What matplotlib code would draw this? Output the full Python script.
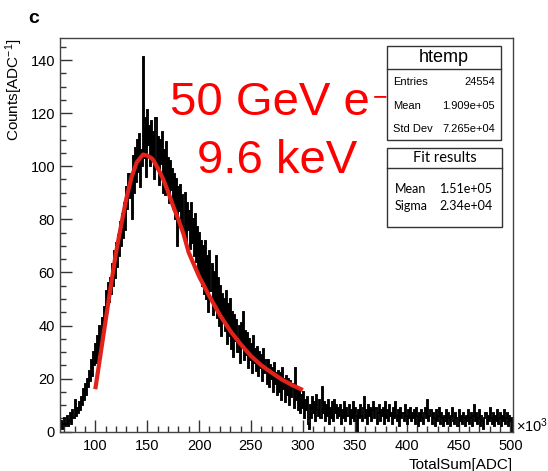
import numpy as np
import matplotlib.pyplot as plt
from matplotlib.patches import Rectangle
from matplotlib.lines import Line2D

plt.rcParams['font.family'] = ['Liberation Sans', 'DejaVu Sans']
plt.rcParams['mathtext.fontset'] = 'custom'
plt.rcParams['mathtext.rm'] = 'Liberation Sans'
plt.rcParams['mathtext.it'] = 'Liberation Sans:italic'
plt.rcParams['mathtext.bf'] = 'Liberation Sans:bold'

# histogram of TotalSum (units of 10^3 ADC), 1k wide bins starting at 66k
bin_start = 66
counts = [
    2, 4, 1, 3, 5, 2, 3, 6, 2, 4,            # 66-75
    7, 3, 8, 5, 12, 6, 9, 7, 11, 8,          # 76-85
    13, 10, 16, 12, 18, 14, 20, 17, 23, 19,  # 86-95
    27, 21, 30, 25, 33, 26, 36, 29, 40, 32,  # 96-105
    43, 37, 47, 41, 53, 45, 56, 49, 58, 52,  # 106-115
    63, 55, 68, 58, 71, 62, 74, 66, 79, 70,  # 116-125
    82, 73, 86, 76, 92, 84, 97, 88, 96, 80,  # 126-135
    104, 90, 107, 94, 110, 98, 112, 92, 106, 100,  # 136-145
    141, 103, 118, 96, 121, 108, 115, 100, 117, 104,  # 146-155
    113, 95, 118, 99, 111, 93, 110, 101, 113, 90,  # 156-165
    106, 89, 109, 93, 103, 86, 102, 91, 99, 84,  # 166-175
    97, 80, 95, 70, 92, 83, 93, 78, 89, 75,  # 176-185
    90, 72, 86, 76, 83, 69, 86, 71, 80, 66,  # 186-195
    82, 64, 77, 60, 75, 58, 72, 55, 70, 52,  # 196-205
    72, 50, 66, 45, 68, 53, 63, 44, 60, 48,  # 206-215
    66, 43, 58, 40, 55, 36, 52, 42, 50, 38,  # 216-225
    53, 33, 48, 36, 50, 31, 45, 28, 44, 34,  # 226-235
    42, 30, 40, 26, 41, 32, 45, 27, 38, 29,  # 236-245
    37, 24, 35, 27, 33, 22, 36, 26, 31, 23,  # 246-255
    32, 21, 30, 24, 29, 19, 31, 22, 27, 18,  # 256-265
    27, 17, 25, 20, 24, 15, 26, 18, 22, 14,  # 266-275
    23, 15, 22, 12, 24, 16, 20, 11, 21, 14,  # 276-285
    20, 10, 19, 13, 18, 9, 24, 12, 17, 8,    # 286-295
    16, 7, 14, 9, 15, 5, 12, 8, 13, 3,       # 296-305
    1, 10, 5, 13, 7, 11, 4, 14, 8, 6,        # 306-315
    12, 5, 17, 7, 11, 4, 10, 6, 12, 3,       # 316-325
    9, 5, 11, 4, 12, 7, 10, 5, 9, 6,         # 326-335
    10, 3, 8, 5, 11, 4, 9, 6, 10, 3,         # 336-345
    8, 5, 11, 4, 9, 6, 0, 8, 5, 10,          # 346-355
    6, 4, 9, 13, 5, 8, 3, 10, 6, 9,          # 356-365
    4, 8, 11, 5, 9, 3, 7, 10, 4, 8,          # 366-375
    6, 9, 3, 11, 5, 8, 4, 10, 6, 7,          # 376-385
    3, 9, 5, 11, 6, 4, 8, 2, 9, 5,           # 386-395
    7, 4, 10, 6, 3, 8, 5, 9, 4, 7,           # 396-405
    5, 8, 3, 9, 6, 2, 7, 4, 8, 5,            # 406-415
    3, 7, 9, 5, 12, 4, 6, 8, 3, 7,           # 416-425
    5, 2, 8, 4, 6, 9, 3, 7, 5, 2,            # 426-435
    6, 4, 8, 3, 7, 5, 2, 6, 9, 4,            # 436-445
    3, 7, 5, 2, 8, 4, 6, 3, 7, 5,            # 446-455
    2, 6, 4, 8, 3, 5, 7, 2, 6, 10,           # 456-465
    4, 7, 3, 5, 8, 2, 6, 4, 1, 5,            # 466-475
    7, 3, 6, 4, 9, 5, 3, 7, 2, 6,            # 476-485
    4, 8, 3, 5, 7, 2, 6, 4, 8, 3,            # 486-495
    5, 7, 2, 6, 4, 5,                        # 496-501
]
edges = np.arange(bin_start, bin_start + len(counts) + 1)

# fitted curve
fit_x = [100, 105, 110, 115, 120, 125, 130, 135, 140, 146, 150, 155, 160, 165,
         170, 175, 180, 185, 190, 200, 210, 220, 230, 240, 250, 260, 270, 280,
         290, 300]
fit_y = [16, 29, 42, 55, 67.5, 78, 88, 96, 101.5, 104.4, 104, 102.8, 99.5, 95.5,
         90.5, 85, 80, 74.5, 67.5, 58.5, 51, 44, 38, 33, 28.5, 25, 22.2, 19.6,
         17.5, 15.7]

stat_names = ['Entries', 'Mean', 'Std Dev']
stat_values = ['24554', '1.909e+05', '7.265e+04']
fit_names = ['Mean', 'Sigma']
fit_values = ['1.51e+05', '2.34e+04']

W, H = 548, 471


def fx(x):
    return x / W


def fy(y):
    return 1 - y / H


fig = plt.figure(figsize=(W / 100, H / 100), dpi=100)
ax = fig.add_axes([fx(60), fy(431.7), (513 - 60) / W, (431.7 - 38) / H])

ax.stairs(counts, edges, color='black', linewidth=1.35, zorder=2)
ax.plot(fit_x, fit_y, color='#e32219', linewidth=3, solid_capstyle='butt', zorder=3)

ax.set_xlim(66, 502.5)
ax.set_ylim(0, 148.3)
ax.set_xticks(np.arange(100, 501, 50))
ax.set_xticks(np.arange(70, 501, 10), minor=True)
ax.set_yticks(np.arange(0, 141, 20))
ax.set_yticks(np.arange(0, 148, 5), minor=True)
ax.tick_params(which='both', direction='in', top=False, right=False,
               color='#333333', width=1)
ax.tick_params(which='major', length=8.6, labelsize=10.5)
ax.tick_params(which='minor', length=4.5)
ax.tick_params(axis='x', pad=5)
ax.tick_params(axis='y', pad=3.6)
for s in ax.spines.values():
    s.set_color('#444444')
    s.set_linewidth(1)

fig.text(fx(513), fy(465), 'TotalSum[ADC]', ha='right', va='center', fontsize=11)
fig.text(fx(14), fy(38), 'Counts[ADC$^{-1}$]', rotation=90, ha='center', va='top',
         fontsize=11)
fig.text(fx(516), fy(426), '×10$^{3}$', ha='left', va='center', fontsize=10.5)
fig.text(fx(28), fy(23), 'c', ha='left', va='baseline', fontsize=14, fontweight='bold')

# big red annotation
fig.text(fx(170), fy(115), '50 GeV e', ha='left', va='baseline', fontsize=34, color='red')
fig.text(fx(380), fy(97), '−', ha='center', va='center', fontsize=18, color='red')
fig.text(fx(197), fy(173), '9.6 keV', ha='left', va='baseline', fontsize=34, color='red')

# stat box
fig.patches.append(Rectangle((fx(387), fy(140)), (501 - 387) / W, (140 - 46) / H,
                             transform=fig.transFigure, facecolor='white',
                             edgecolor='#333333', linewidth=1, zorder=5))
fig.lines.append(Line2D([fx(387), fx(501)], [fy(69), fy(69)], transform=fig.transFigure,
                        color='#333333', linewidth=1, zorder=6))
fig.text(fx(444), fy(57.5), 'htemp', ha='center', va='center', fontsize=13, zorder=7)
for i, (n, v) in enumerate(zip(stat_names, stat_values)):
    yy = 82 + i * 23.5
    fig.text(fx(393), fy(yy), n, ha='left', va='center', fontsize=8, zorder=7)
    fig.text(fx(495), fy(yy), v, ha='right', va='center', fontsize=8, zorder=7)

# fit results box
fig.patches.append(Rectangle((fx(387), fy(227)), (502 - 387) / W, (227 - 148) / H,
                             transform=fig.transFigure, facecolor='white',
                             edgecolor='#333333', linewidth=1, zorder=5))
fig.lines.append(Line2D([fx(387), fx(502)], [fy(168), fy(168)], transform=fig.transFigure,
                        color='#333333', linewidth=1, zorder=6))
fig.text(fx(445), fy(158), 'Fit results', ha='center', va='center', fontsize=10.5,
         family=['Lato', 'DejaVu Sans'], zorder=7)
for i, (n, v) in enumerate(zip(fit_names, fit_values)):
    yy = 189 + i * 16.5
    fig.text(fx(395), fy(yy), n, ha='left', va='center', fontsize=9,
             family=['Lato', 'DejaVu Sans'], zorder=7)
    fig.text(fx(493), fy(yy), v, ha='right', va='center', fontsize=9,
             family=['Lato', 'DejaVu Sans'], zorder=7)

fig.savefig('out.png', dpi=100)
